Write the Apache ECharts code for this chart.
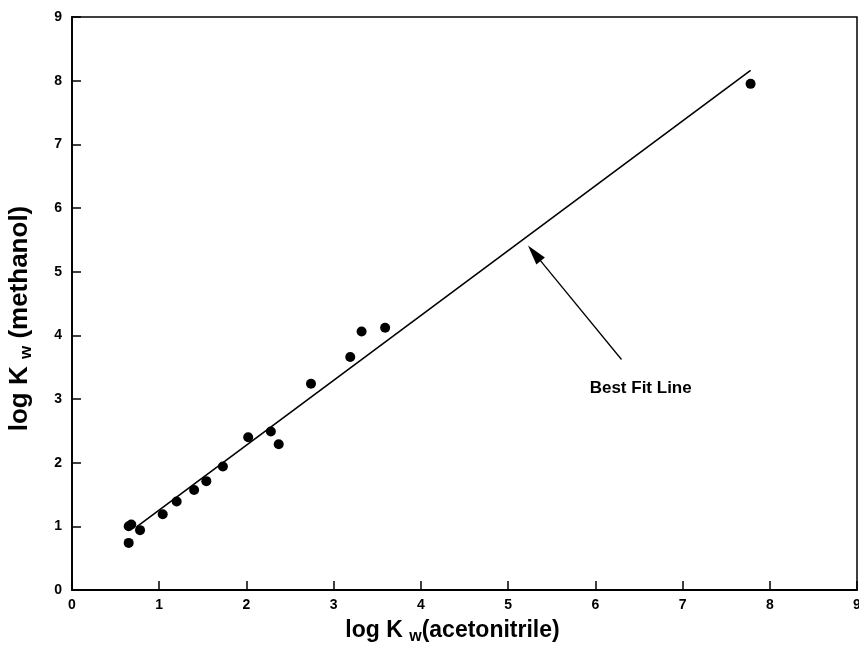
<!DOCTYPE html>
<html><head><meta charset="utf-8">
<script src="https://cdn.jsdelivr.net/npm/echarts@6/dist/echarts.min.js"></script>
<style>html,body{margin:0;padding:0;background:#fff}#c{width:859px;height:646px}</style>
</head><body><div id="c"></div>
<script>
// Data
const pointsX = [0.65, 0.68, 0.65, 0.78, 1.04, 1.20, 1.40, 1.54, 1.73, 2.02, 2.28, 2.37, 2.74, 3.19, 3.32, 3.59, 7.78];
const pointsY = [1.00, 1.03, 0.74, 0.94, 1.19, 1.39, 1.57, 1.71, 1.94, 2.40, 2.49, 2.29, 3.24, 3.66, 4.06, 4.12, 7.95];
const fitX = [0.74, 7.78];
const fitY = [0.99, 8.16];
const arrowFrom = [6.30, 3.62];
const arrowTo = [5.30, 5.29];
const annotationText = 'Best Fit Line';
const annotationPos = [6.52, 3.17];
const xTicks = [0, 1, 2, 3, 4, 5, 6, 7, 8, 9];
const yTicks = [0, 1, 2, 3, 4, 5, 6, 7, 8, 9];

const FONT = '"Liberation Sans", Arial, Helvetica, sans-serif';
const chart = echarts.init(document.getElementById('c'), null, {renderer: 'canvas'});
const scatterData = pointsX.map((x, i) => [x, pointsY[i]]);
const fitData = fitX.map((x, i) => [x, fitY[i]]);

const axisCommon = {
  min: 0, max: 9, interval: 1,
  axisLine: {show: true, onZero: false, lineStyle: {color: '#000', width: 1.8}},
  axisTick: {show: true, inside: true, length: 9, lineStyle: {color: '#000', width: 1.5}},
  splitLine: {show: false},
  axisLabel: {color: '#000', fontFamily: FONT, fontWeight: 'bold', fontSize: 14}
};

chart.setOption({
  animation: false,
  backgroundColor: '#fff',
  grid: {left: 72, right: 2, top: 17, bottom: 56, show: true, borderColor: '#000', borderWidth: 1.5,
         backgroundColor: 'transparent', outerBoundsMode: 'none', containLabel: false},
  xAxis: Object.assign({}, axisCommon, {
    type: 'value',
    axisLabel: Object.assign({}, axisCommon.axisLabel, {margin: 8, formatter: v => xTicks.includes(v) ? String(v) : ''}),
    name: '{a|log K }{b|w}{a|(acetonitrile)}',
    nameLocation: 'middle',
    nameGap: 26,
    nameTextStyle: {
      padding: [0, 24, 0, 0],
      rich: {
        a: {fontFamily: FONT, fontWeight: 'bold', fontSize: 23, color: '#000'},
        b: {fontFamily: FONT, fontWeight: 'bold', fontSize: 16, color: '#000', padding: [13, 0, 0, 0]}
      }
    }
  }),
  yAxis: Object.assign({}, axisCommon, {
    type: 'value',
    axisLabel: Object.assign({}, axisCommon.axisLabel, {margin: 10, formatter: v => yTicks.includes(v) ? String(v) : ''}),
    name: '{a|log K }{b|w}{a| (methanol)}',
    nameLocation: 'middle',
    nameRotate: 90,
    nameGap: 37,
    nameTextStyle: {
      padding: [0, 30, 0, 0],
      rich: {
        a: {fontFamily: FONT, fontWeight: 'bold', fontSize: 26, color: '#000'},
        b: {fontFamily: FONT, fontWeight: 'bold', fontSize: 17, color: '#000', padding: [14, 0, 0, 0]}
      }
    }
  }),
  series: [
    {
      type: 'line', data: fitData, showSymbol: false, symbol: 'none',
      lineStyle: {color: '#000', width: 1.6}, z: 2,
      markLine: {
        silent: true, symbol: ['none', 'triangle'], symbolSize: [11, 20],
        lineStyle: {color: '#000', width: 1.3, type: 'solid'},
        itemStyle: {color: '#000'},
        label: {show: false},
        data: [[{coord: arrowFrom}, {coord: arrowTo}]]
      }
    },
    {
      type: 'scatter', data: scatterData, symbol: 'circle', symbolSize: 10,
      itemStyle: {color: '#000', opacity: 1}, z: 3
    },
    {
      type: 'scatter', data: [annotationPos], symbolSize: 0, silent: true,
      itemStyle: {opacity: 1},
      label: {show: true, position: 'inside', formatter: annotationText,
        fontFamily: FONT, fontWeight: 'bold', fontSize: 17, color: '#000', textBorderWidth: 0}
    }
  ]
});
</script></body></html>
